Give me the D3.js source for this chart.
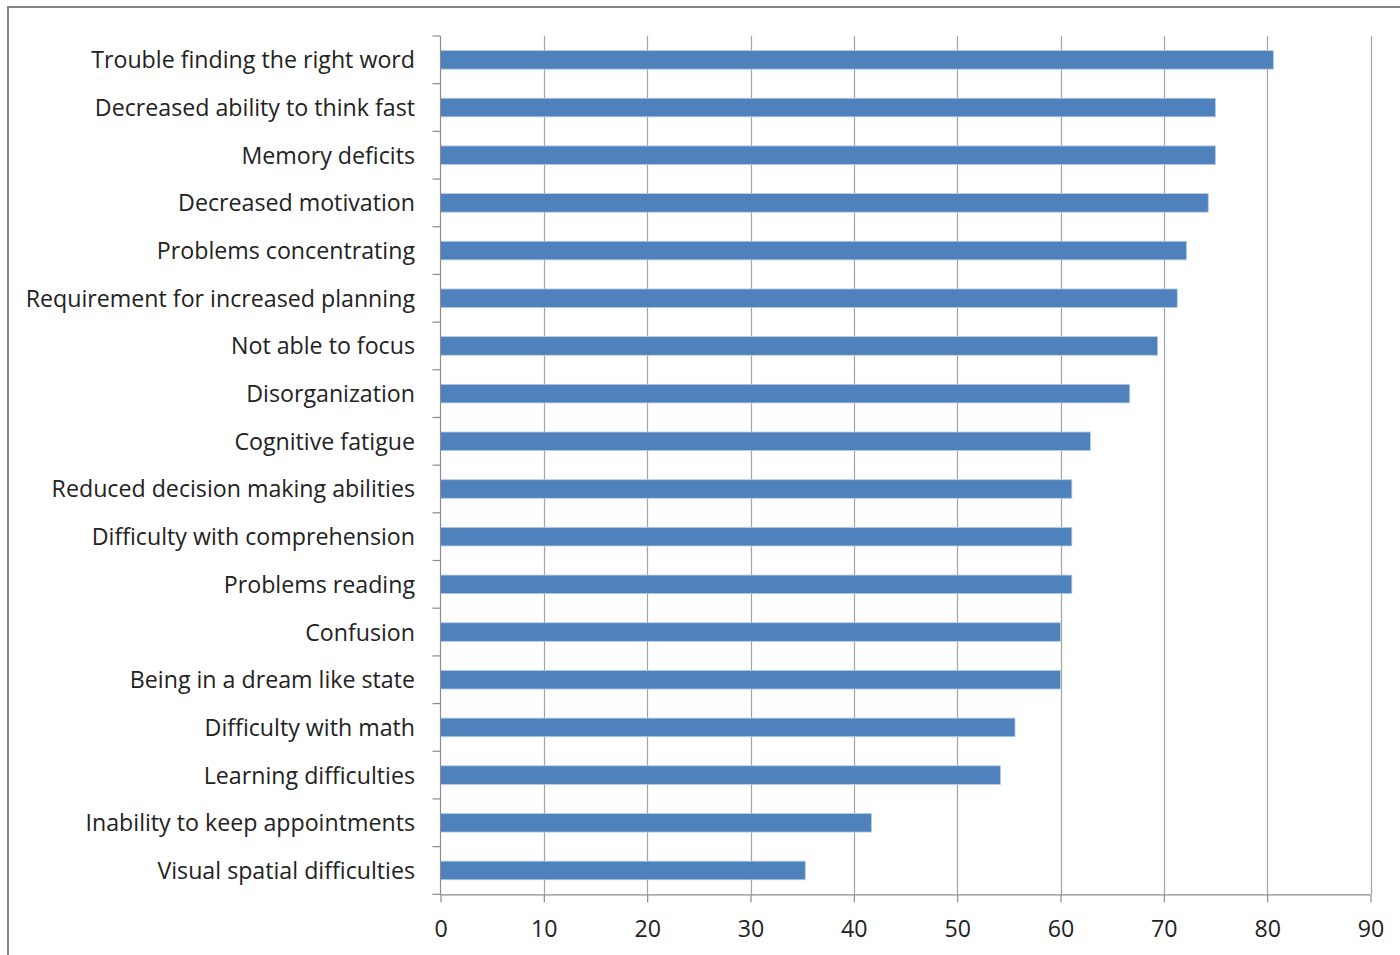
<!DOCTYPE html>
<html><head><meta charset="utf-8">
<script src="https://cdn.jsdelivr.net/npm/d3@7"></script>
<style>html,body{margin:0;padding:0;background:#fff;}svg{display:block;}text{font-variant-ligatures:none;}</style>
</head><body>
<svg id="chart" width="1400" height="955"></svg>
<script>
const categories = [
  "Trouble finding the right word",
  "Decreased ability to think fast",
  "Memory deficits",
  "Decreased motivation",
  "Problems concentrating",
  "Requirement for increased planning",
  "Not able to focus",
  "Disorganization",
  "Cognitive fatigue",
  "Reduced decision making abilities",
  "Difficulty with comprehension",
  "Problems reading",
  "Confusion",
  "Being in a dream like state",
  "Difficulty with math",
  "Learning difficulties",
  "Inability to keep appointments",
  "Visual spatial difficulties"
];
const values = [80.6, 75.0, 75.0, 74.3, 72.2, 71.3, 69.4, 66.7, 62.9, 61.1, 61.1, 61.1, 60.0, 60.0, 55.6, 54.2, 41.7, 35.3];
const xTicks = [0, 10, 20, 30, 40, 50, 60, 70, 80, 90];

const svg = d3.select("#chart");
const FONT = "'Open Sans', Lato, sans-serif";
const FS = 23.2;

// outer frame
svg.append("rect").attr("x", 8).attr("y", 7).attr("width", 1400).attr("height", 960)
  .attr("fill", "none").attr("stroke", "#878787").attr("stroke-width", 2);

const pLeft = 440.5, pRight = 1370.5, pTop = 36, pBottom = 894.3;
const x = d3.scaleLinear().domain([0, 90]).range([pLeft, pRight]);
const y = d3.scaleBand().domain(categories).range([pTop, pBottom]).paddingInner(0.61).paddingOuter(0.305);
const yb = d3.scaleBand().domain(categories).range([pTop, pBottom]);

// gridlines
svg.append("g").selectAll("line").data(xTicks.slice(1)).join("line")
  .attr("x1", d => Math.round(x(d)) + 0.5).attr("x2", d => Math.round(x(d)) + 0.5)
  .attr("y1", pTop).attr("y2", pBottom)
  .attr("stroke", "#a3a3a3").attr("stroke-width", 1.2);

// bars
svg.append("g").selectAll("rect").data(values).join("rect")
  .attr("x", x(0)).attr("y", (d, i) => y(categories[i]))
  .attr("width", d => x(d) - x(0)).attr("height", y.bandwidth())
  .attr("fill", "#4f81bd").attr("stroke", "#b9cde5").attr("stroke-width", 0.8);

// x axis
const xAxis = d3.axisBottom(x).tickValues(xTicks).tickSize(8);
const gx = svg.append("g").attr("transform", `translate(0,${pBottom})`).call(xAxis);
gx.select(".domain").attr("stroke", "#8c8c8c").attr("stroke-width", 1.2).attr("d", `M${pLeft},0.5H${pRight}`);
gx.selectAll(".tick line").attr("stroke", "#8c8c8c").attr("stroke-width", 1.2);
gx.selectAll(".tick text").attr("font-family", FONT).attr("font-size", FS).attr("fill", "#222")
  .attr("y", 42.7).attr("dy", 0);

// y axis line + ticks at band boundaries
svg.append("line").attr("x1", pLeft).attr("x2", pLeft).attr("y1", pTop).attr("y2", pBottom)
  .attr("stroke", "#8c8c8c").attr("stroke-width", 1.2);
const bounds = categories.map(c => yb(c)).concat([pBottom]);
svg.append("g").selectAll("line").data(bounds).join("line")
  .attr("x1", pLeft - 8).attr("x2", pLeft).attr("y1", d => d).attr("y2", d => d)
  .attr("stroke", "#8c8c8c").attr("stroke-width", 1.2);

// category labels
svg.append("g").selectAll("text").data(categories).join("text")
  .attr("x", 415).attr("y", d => yb(d) + yb.bandwidth() / 2 + 8.5)
  .attr("text-anchor", "end")
  .attr("font-family", FONT).attr("font-size", FS).attr("fill", "#222")
  .text(d => d);
</script>
</body></html>
